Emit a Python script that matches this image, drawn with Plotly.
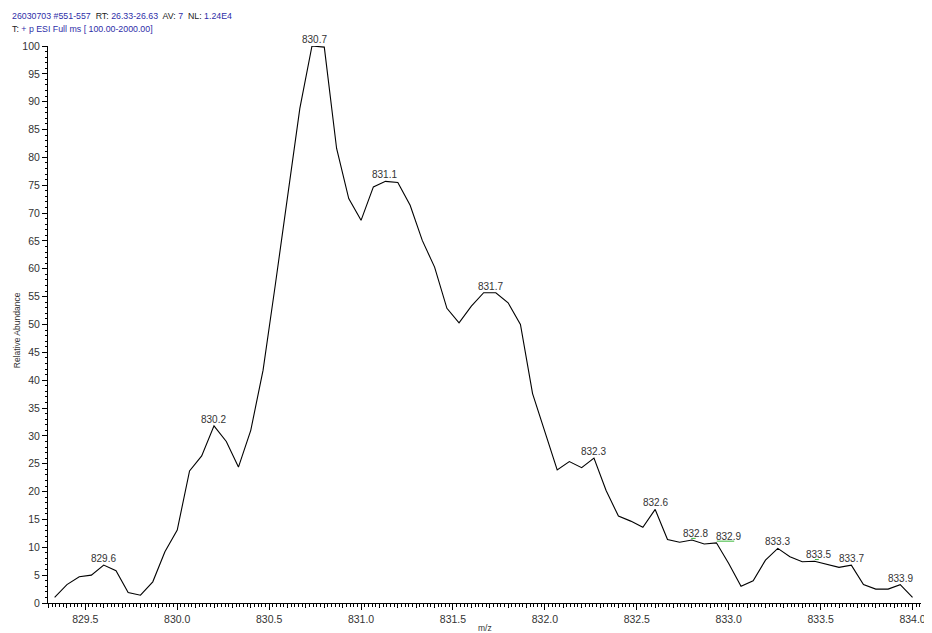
import numpy as np
import plotly.graph_objects as go

# m/z sampling points (profile data)
mz = [
    829.333, 829.400, 829.467, 829.533, 829.600, 829.667, 829.733, 829.800, 829.867, 829.933,
    830.000, 830.067, 830.133, 830.200, 830.267, 830.333, 830.400, 830.467, 830.533, 830.600,
    830.667, 830.733, 830.800, 830.867, 830.933, 831.000, 831.067, 831.133, 831.200, 831.267,
    831.333, 831.400, 831.467, 831.533, 831.600, 831.667, 831.733, 831.800, 831.867, 831.933,
    832.000, 832.067, 832.133, 832.200, 832.267, 832.333, 832.400, 832.467, 832.533, 832.600,
    832.667, 832.733, 832.800, 832.867, 832.933, 833.000, 833.067, 833.133, 833.200, 833.267,
    833.333, 833.400, 833.467, 833.533, 833.600, 833.667, 833.733, 833.800, 833.867, 833.933,
    834.000,
]

# relative abundance (%)
abundance = [
    1.0, 3.3, 4.7, 5.0, 6.8, 5.8, 1.9, 1.4, 3.8, 9.2,
    13.1, 23.7, 26.4, 31.8, 29.0, 24.4, 31.0, 41.8, 57.0, 72.5,
    88.8, 100.0, 99.8, 81.6, 72.6, 68.7, 74.7, 75.7, 75.5, 71.4,
    65.1, 60.3, 52.9, 50.3, 53.3, 55.7, 55.7, 53.9, 50.0, 37.6,
    30.7, 23.9, 25.4, 24.3, 26.0, 20.2, 15.6, 14.7, 13.6, 16.8,
    11.4, 10.9, 11.3, 10.6, 10.8, 7.1, 3.0, 4.0, 7.7, 9.8,
    8.3, 7.4, 7.5, 6.9, 6.4, 6.8, 3.3, 2.5, 2.5, 3.3,
    1.0,
]

# peak labels: text and where the label is drawn
peak_text = ["829.6", "830.2", "830.7", "831.1", "831.7", "832.3", "832.6",
             "832.8", "832.9", "833.3", "833.5", "833.7", "833.9"]
peak_label_mz = [829.600, 830.195, 830.745, 831.129, 831.702, 832.265, 832.602,
                 832.820, 833.000, 833.265, 833.490, 833.667, 833.932]
# labels moved off their true centroid get a green leader line
leader_text = ["832.8", "832.9", "833.5"]
leader_true_mz = [832.796, 832.935, 833.469]

x_range = [829.297, 834.046]

mz_arr = np.array(mz)
ab_arr = np.array(abundance)


def label_height(pos):
    win = np.abs(mz_arr - pos) <= 0.07
    return float(ab_arr[win].max())


fig = go.Figure()

fig.add_trace(go.Scatter(
    x=mz, y=abundance, mode="lines",
    line=dict(color="black", width=1.1),
    hoverinfo="x+y", showlegend=False,
))

# invisible trace to carry the 0.1 tick axis
fig.add_trace(go.Scatter(
    x=mz, y=abundance, mode="lines", xaxis="x2",
    line=dict(color="rgba(0,0,0,0)", width=0),
    hoverinfo="skip", showlegend=False,
))

label_font = dict(family="Liberation Sans, Arial", size=10, color="#333333")
annotations = []
for txt, pos in zip(peak_text, peak_label_mz):
    annotations.append(dict(
        x=pos, y=label_height(pos), xref="x", yref="y",
        text=txt, showarrow=False, yanchor="bottom", xanchor="center",
        font=label_font, yshift=-1,
    ))

shapes = []
for txt, true_pos in zip(leader_text, leader_true_mz):
    pos = peak_label_mz[peak_text.index(txt)]
    h = label_height(pos)
    shapes.append(dict(
        type="line", xref="x", yref="y",
        x0=true_pos, x1=pos + 0.03 * (pos > true_pos + 0.05), y0=h + 0.3, y1=h + 0.3,
        line=dict(color="#3cb83c", width=1),
    ))

blue = "#2e2ea8"
head1 = (f'<span style="color:{blue}">26030703 #551-557</span>  RT: '
         f'<span style="color:{blue}">26.33-26.63</span>  AV: '
         f'<span style="color:{blue}">7</span>  NL: '
         f'<span style="color:{blue}">1.24E4</span>')
head2 = f'T: <span style="color:{blue}">+ p ESI Full ms [ 100.00-2000.00]</span>'
head_font = dict(family="Liberation Sans, Arial", size=8.8, color="#222222")
annotations.append(dict(x=-38 / 878, y=1.053, xref="paper", yref="paper", text=head1,
                        showarrow=False, xanchor="left", yanchor="middle", font=head_font))
annotations.append(dict(x=-38 / 878, y=1.030, xref="paper", yref="paper", text=head2,
                        showarrow=False, xanchor="left", yanchor="middle", font=head_font))

title_font = dict(family="Liberation Sans, Arial", size=8.5, color="#333333")
annotations.append(dict(x=-31 / 878, y=0.49, xref="paper", yref="paper",
                        text="Relative Abundance", textangle=-90, showarrow=False,
                        xanchor="center", yanchor="middle", font=title_font))
annotations.append(dict(x=439 / 878, y=-25 / 557, xref="paper", yref="paper",
                        text="m/z", showarrow=False,
                        xanchor="center", yanchor="middle", font=title_font))

tick_font = dict(family="Liberation Sans, Arial", size=10.5, color="#333333")

# the page body adds an 8px offset, so the figure is 8px smaller and margins shifted
fig.update_layout(
    width=924, height=625,
    margin=dict(l=40, r=6, t=38, b=30),
    paper_bgcolor="white", plot_bgcolor="white",
    annotations=annotations, shapes=shapes,
    xaxis=dict(
        range=x_range, tickmode="linear", tick0=829.5, dtick=0.5,
        tickformat=".1f", ticks="outside", ticklen=6, tickwidth=1, tickcolor="black",
        showline=True, linecolor="black", linewidth=1, showgrid=False, zeroline=False,
        tickfont=tick_font,
        minor=dict(tickmode="linear", tick0=829.5, dtick=0.02, ticks="outside",
                   ticklen=2.5, tickwidth=1, tickcolor="black", showgrid=False),
    ),
    xaxis2=dict(
        range=x_range, overlaying="x", anchor="y", side="bottom",
        tickmode="linear", tick0=829.5, dtick=0.1, ticks="outside", ticklen=4,
        tickwidth=1, tickcolor="black", showticklabels=False, showline=False,
        showgrid=False, zeroline=False,
    ),
    yaxis=dict(
        range=[0, 100], tickmode="linear", tick0=0, dtick=5,
        ticks="outside", ticklen=5, tickwidth=1, tickcolor="black",
        showline=True, linecolor="black", linewidth=1, showgrid=False, zeroline=False,
        tickfont=tick_font,
        minor=dict(tickmode="linear", tick0=0, dtick=1, ticks="outside",
                   ticklen=2.5, tickwidth=1, tickcolor="black", showgrid=False),
    ),
)

fig.write_html("out.html")
